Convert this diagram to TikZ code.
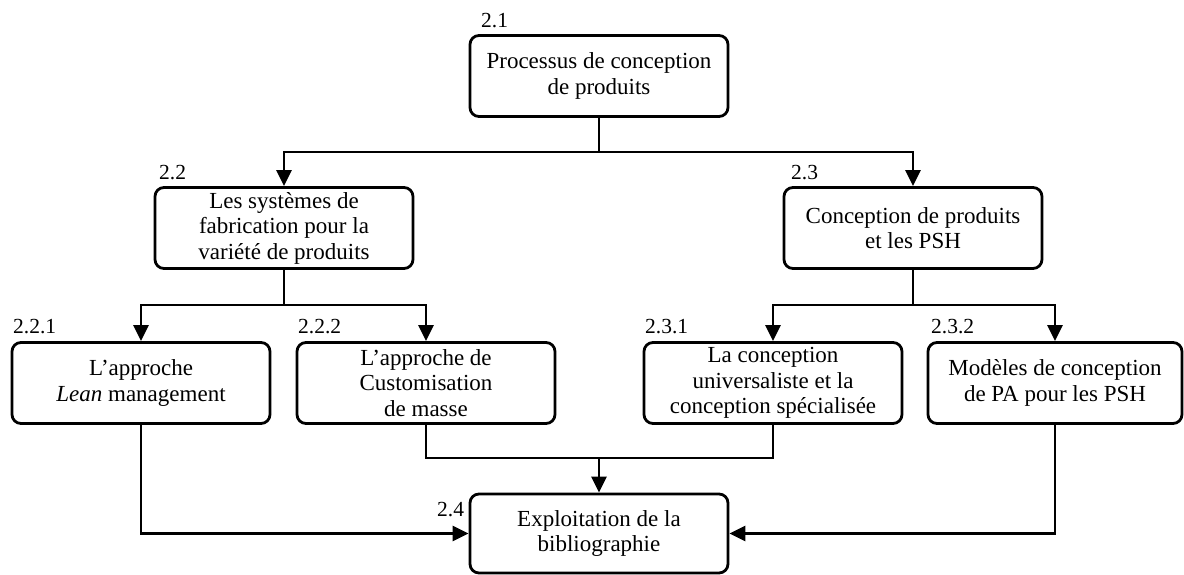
\documentclass[tikz,border=0pt]{standalone}
\usepackage{fontspec}
\setmainfont{Liberation Serif}
\usetikzlibrary{arrows.meta}
\begin{document}
\begin{tikzpicture}[x=1pt,y=-1pt,
  box/.style={draw,line width=2.8pt,rounded corners=9pt,minimum width=258pt,minimum height=81pt,
    align=center,inner sep=2pt,font=\fontsize{23}{25.5}\selectfont},
  num/.style={anchor=west,inner sep=0pt,font=\fontsize{21.5}{24}\selectfont},
  conn/.style={line width=2.8pt},
  arr/.style={conn,-{Triangle[length=16pt,width=15pt]}}]
\useasboundingbox (0,0) rectangle (1184,574);
% boxes
\node[box] (n21) at (599,76) {Processus de conception\\de produits};
\node[box] (n22) at (284,228) {Les systèmes de\\fabrication pour la\\variété de produits};
\node[box] (n23) at (913,228) {Conception de produits\\et les PSH};
\node[box] (n221) at (141,383) {L’approche\\\textit{Lean} management};
\node[box] (n222) at (426,383) {L’approche de\\Customisation\\de masse};
\node[box] (n231) at (773,383) {La conception\\universaliste et la\\conception spécialisée};
\node[box,minimum width=254pt] (n232) at (1055,383) {Modèles de conception\\de PA pour les PSH};
\node[box,minimum height=79pt] (n24) at (599,533.5) {Exploitation de la\\bibliographie};
% numbers
\node[num] (l21) at (481,21) {2.1};
\node[num] (l22) at (159,173) {2.2};
\node[num] (l23) at (791,173) {2.3};
\node[num] (l221) at (13,327) {2.2.1};
\node[num] (l222) at (298,327) {2.2.2};
\node[num] (l231) at (645,327) {2.3.1};
\node[num] (l232) at (931,327) {2.3.2};
\node[num] (l24) at (437,510) {2.4};
% junctions
\coordinate (j1) at (599,152);
\coordinate (j2) at (284,305);
\coordinate (j3) at (913,305);
\coordinate (j4) at (599,458);
% connectors
\draw[conn] (n21.south) -- (j1);
\draw[arr] (j1) -| (n22.north);
\draw[arr] (j1) -| (n23.north);
\draw[conn] (n22.south) -- (j2);
\draw[arr] (j2) -| (n221.north);
\draw[arr] (j2) -| (n222.north);
\draw[conn] (n23.south) -- (j3);
\draw[arr] (j3) -| (n231.north);
\draw[arr] (j3) -| (n232.north);
\draw[conn] (n222.south) |- (j4) -| (n231.south);
\draw[arr] (j4) -- (n24.north);
\draw[arr] (n221.south) |- (n24.west);
\draw[arr] (n232.south) |- (n24.east);
\end{tikzpicture}
\end{document}
